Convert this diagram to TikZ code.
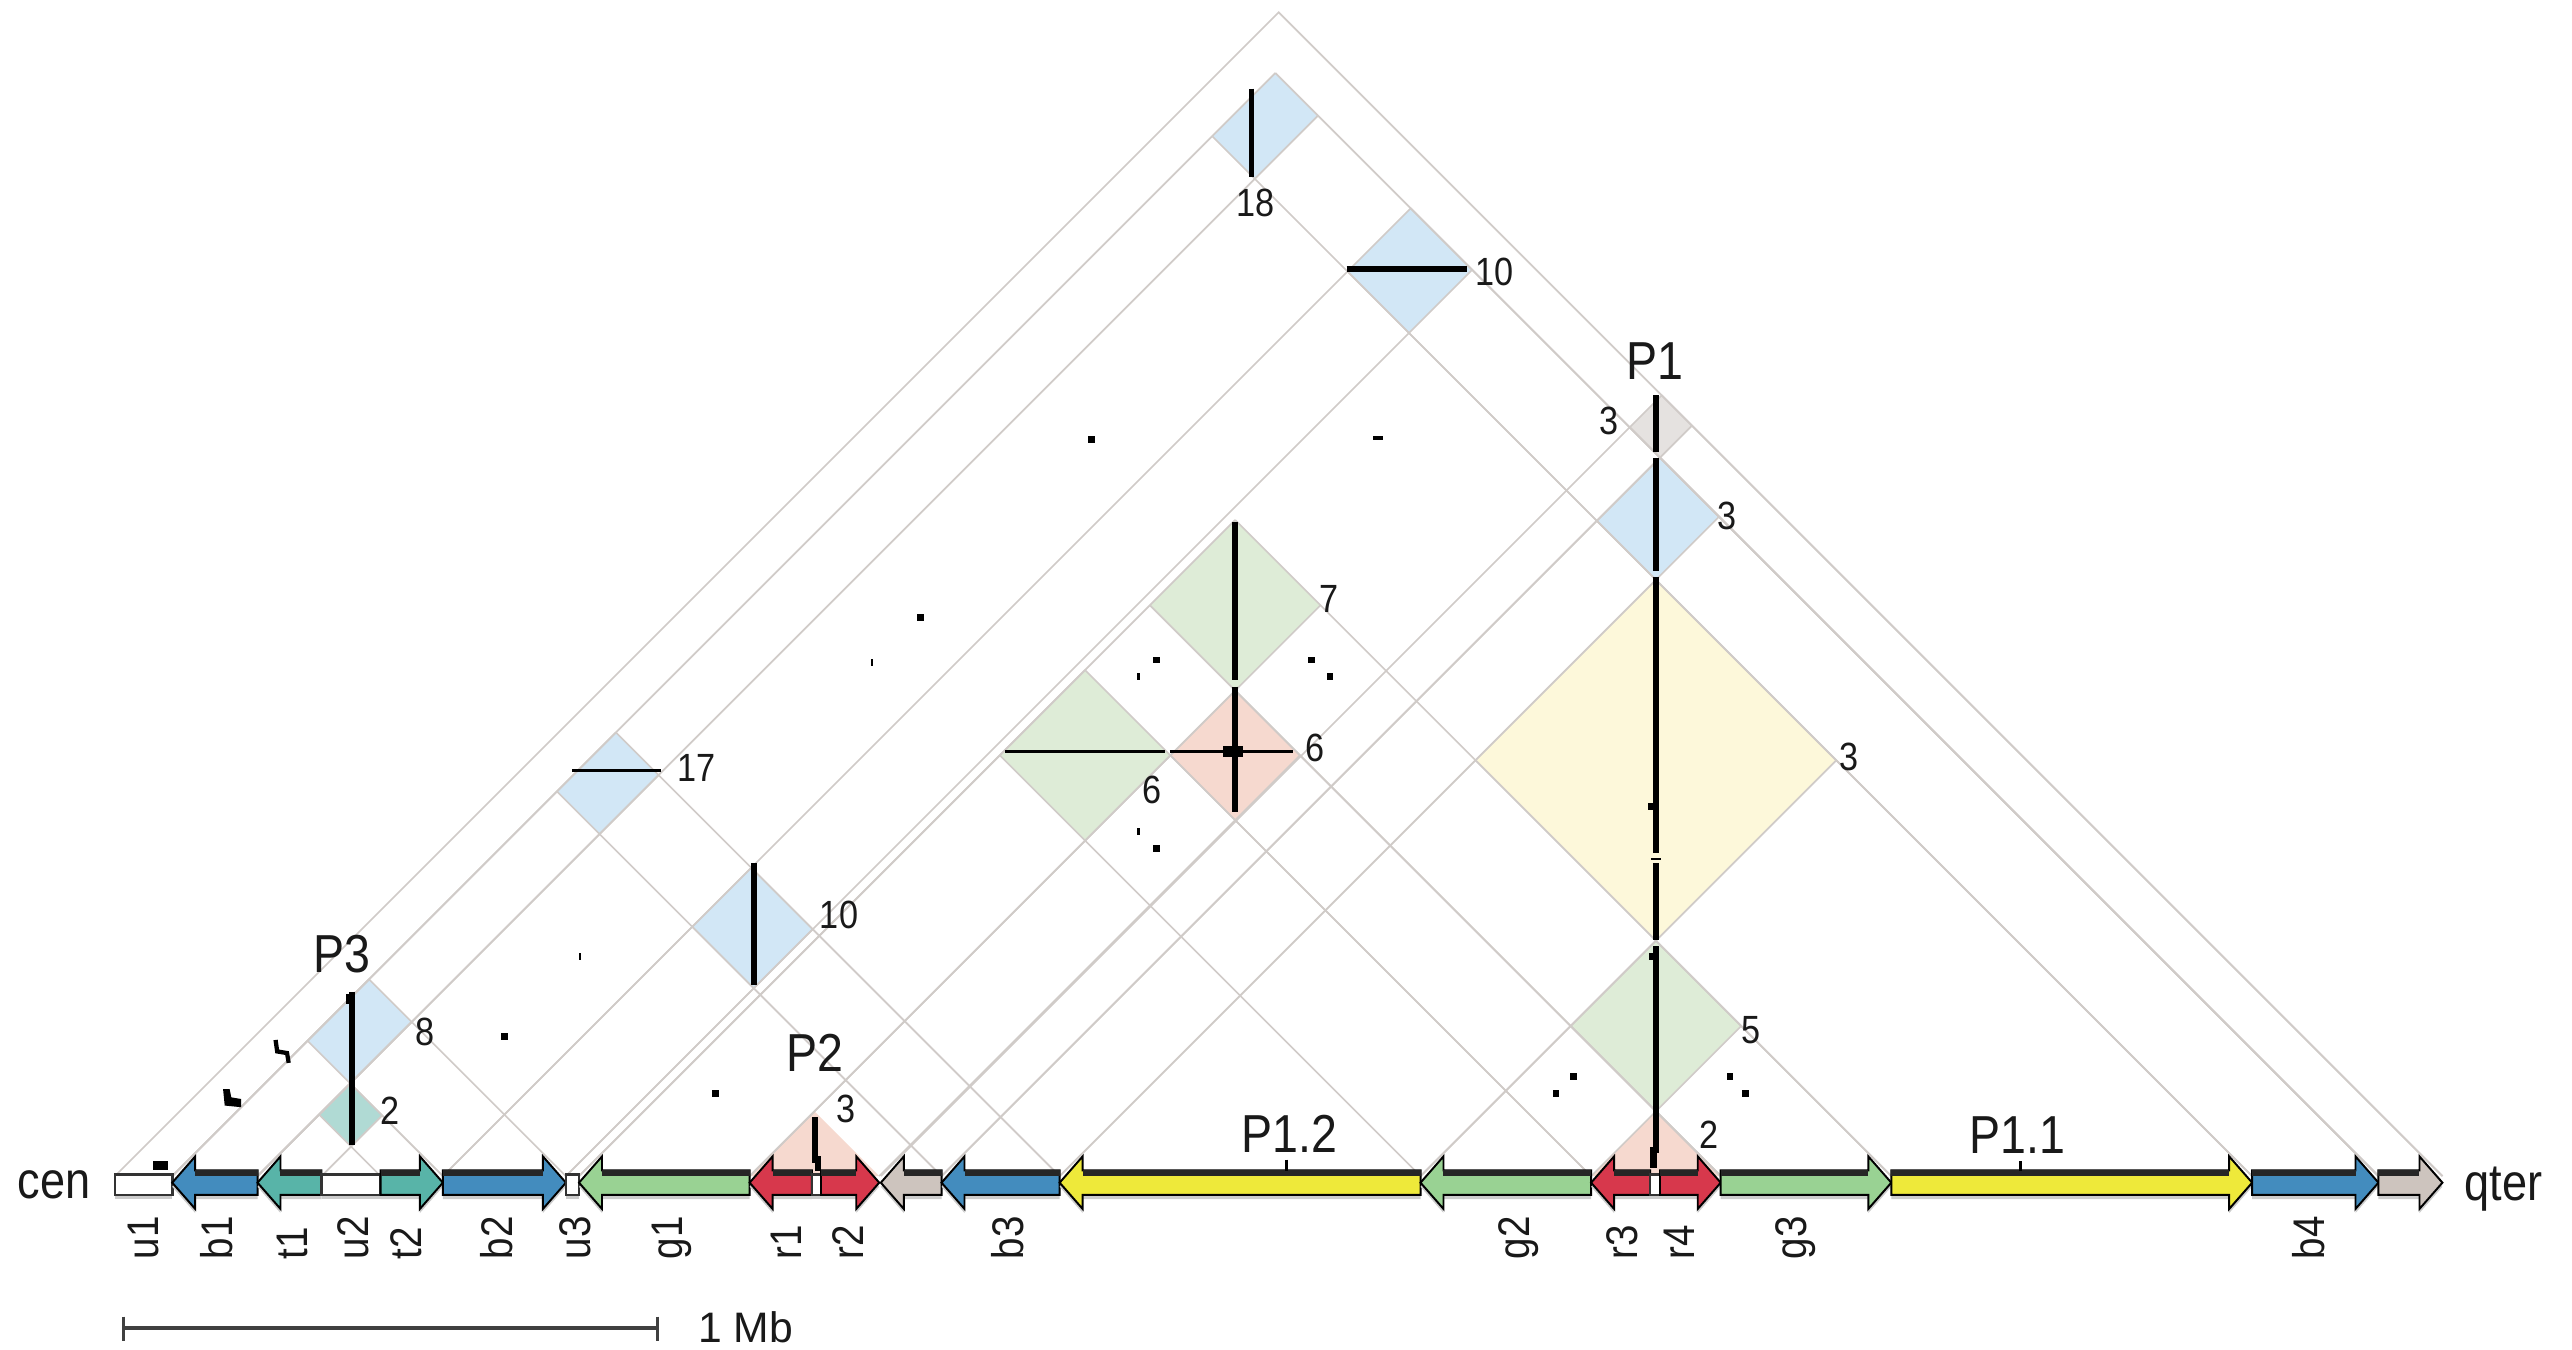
\documentclass[tikz,border=0pt]{standalone}
\usepackage{fontspec}
\setmainfont{Liberation Sans}[FakeStretch=0.87]
\newfontfamily\plainsf{Liberation Sans}
\definecolor{lblue}{RGB}{210,231,246}
\definecolor{lgreen}{RGB}{222,236,215}
\definecolor{lred}{RGB}{246,217,207}
\definecolor{lyellow}{RGB}{253,248,218}
\definecolor{lgray}{RGB}{229,226,224}
\definecolor{lteal}{RGB}{176,218,212}
\definecolor{cblue}{RGB}{67,140,190}
\definecolor{cteal}{RGB}{88,180,168}
\definecolor{cgreen}{RGB}{153,210,147}
\definecolor{cred}{RGB}{215,56,76}
\definecolor{cgray}{RGB}{205,196,190}
\definecolor{cyellow}{RGB}{238,233,58}
\definecolor{gridc}{RGB}{208,203,200}
\def\dpparse#1,#2\relax{\pgfpointxy{((#1)+(#2))/2}{717-((#2)-(#1))/2}}
\tikzdeclarecoordinatesystem{dp}{\dpparse#1\relax}
\newcommand\dmd[5]{\fill[#5] (dp cs:#1,#3) -- (dp cs:#2,#3) -- (dp cs:#2,#4) -- (dp cs:#1,#4) -- cycle;}
\newcommand\dgrid[4]{\draw[gridline] (dp cs:#1,#1) -- (dp cs:#1,#4) (dp cs:#2,#2) -- (dp cs:#2,#4) (dp cs:#3,#3) -- (dp cs:#1,#3) (dp cs:#4,#4) -- (dp cs:#1,#4);}
\newcommand\trif[3]{\fill[#3] (dp cs:#1,#1) -- (dp cs:#1,#2) -- (dp cs:#2,#2) -- cycle;}
\newcommand\larrS[3]{\path[#3] (#1,721) -- ({#1+14},705) -- ({#1+14},713.5) -- (#2,713.5) -- (#2,728.5) -- ({#1+14},728.5) -- ({#1+14},737) -- cycle;}
\newcommand\rarrS[3]{\path[#3] (#2,721) -- ({#2-14},705) -- ({#2-14},713.5) -- (#1,713.5) -- (#1,728.5) -- ({#2-14},728.5) -- ({#2-14},737) -- cycle;}
\newcommand\larr[3]{\larrS{#1}{#2}{fill=gray!40,shift={(0,2.5)}}\larrS{#1}{#2}{fill=#3,draw=black,line width=0.6pt}\fill[black!85] ({#1+14},713.5) rectangle (#2,717);}
\newcommand\rarr[3]{\rarrS{#1}{#2}{fill=gray!40,shift={(0,2.5)}}\rarrS{#1}{#2}{fill=#3,draw=black,line width=0.6pt}\fill[black!85] (#1,713.5) rectangle ({#2-14},717);}
\newcommand\ubox[2]{\fill[gray!40] (#1,718.5) rectangle (#2,731);\filldraw[fill=white,draw=black!80,line width=0.8pt] (#1,716) rectangle (#2,728.5);}
\tikzset{
  gridline/.style={draw=gridc,line width=0.5pt},
  aln/.style={draw=black,line width=1.75pt},
  alnp/.style={draw=black,line width=2pt},
  alnt/.style={draw=black,line width=0.9pt},
  num/.style={inner sep=0pt,text=black!90,font=\fontsize{12}{12}\selectfont},
  big/.style={inner sep=0pt,text=black!90,font=\fontsize{16.3}{16}\selectfont},
  seglab/.style={inner sep=0pt,rotate=90,anchor=west,text=black!90,font=\fontsize{13.5}{14}\selectfont},
  endlab/.style={inner sep=0pt,anchor=base west,text=black!90,font=\fontsize{15.8}{16}\selectfont},
}
\begin{document}
\begin{tikzpicture}[x=0.5pt,y=-0.5pt]
\useasboundingbox (0,0) rectangle (1568,823);
\fill[white] (0,0) rectangle (1568,823);
% diamond fills
\dmd{105}{157}{1373}{1450}{lblue}
\dmd{270}{345}{1373}{1450}{lblue}
\dmd{537}{574}{1450}{1489}{lgray}
\dmd{574}{646}{1373}{1450}{lblue}
\dmd{646}{866}{1153}{1373}{lyellow}
\dmd{353}{457}{1049}{1153}{lgreen}
\dmd{353}{457}{866}{970}{lgreen}
\dmd{457}{536}{970}{1049}{lred}
\dmd{105}{157}{574}{646}{lblue}
\dmd{270}{345}{574}{646}{lblue}
\dmd{866}{970}{1049}{1153}{lgreen}
\dmd{105}{157}{270}{345}{lblue}
\dmd{157}{196}{232}{270}{lteal}
\trif{457}{536}{lred}
\trif{970}{1049}{lred}
% grid lines
\draw[gridline] (dp cs:70,70) -- (dp cs:70,1489) -- (dp cs:1489,1489);
\dgrid{105}{157}{1373}{1450}
\dgrid{270}{345}{1373}{1450}
\dgrid{537}{574}{1450}{1489}
\dgrid{574}{646}{1373}{1450}
\dgrid{646}{866}{1153}{1373}
\dgrid{353}{457}{1049}{1153}
\dgrid{353}{457}{866}{970}
\dgrid{457}{536}{970}{1049}
\dgrid{105}{157}{574}{646}
\dgrid{270}{345}{574}{646}
\dgrid{866}{970}{1049}{1153}
\dgrid{105}{157}{270}{345}
\dgrid{157}{196}{232}{270}
% alignments
\draw[aln] (763,54) -- (763,108);
\draw[aln] (821,164.2) -- (894.6,164.2);
\draw[alnp] (1009.5,241) -- (1009.5,275.5) (1009.5,279) -- (1009.5,348) (1009.5,352) -- (1009.5,520.3) (1009.5,526.3) -- (1009.5,573) (1009.5,577) -- (1009.5,703);
\draw[alnp] (1008,699) -- (1008,712);
\draw[line width=0.5pt] (1006.5,523.8) -- (1012.5,523.8);
\fill (1004.5,489.5) rectangle (1008,494);
\fill (1005,581) rectangle (1008,585.5);
\draw[aln] (459.7,526) -- (459.7,600.5);
\draw[aln] (753,318) -- (753,414.5);
\draw[aln] (753,418.6) -- (753,495);
\draw[alnt] (612.7,458.3) -- (710,458.3) (713,458.3) -- (788.5,458.3);
\fill (745.7,455) rectangle (757.9,461.3);
\draw[alnt] (349,470) -- (403,470);
\draw[aln] (214.6,604.6) -- (214.6,698);
\fill (211,606) rectangle (214,612);
\draw[aln] (497,681) -- (497,709);
\draw[aln] (498.5,705) -- (498.5,714);
\draw[line width=1.3pt] (168,634) -- (169,641) -- (175,642) -- (176,648);
\fill (136,664) -- (140,664) -- (141,669) -- (147,670) -- (147,675) -- (137,674) -- cycle;
% dots
\fill (663.5,266) rectangle (667.5,270);
\fill (837,266) rectangle (843,268.5);
\fill (559,374.5) rectangle (563,378.5);
\fill (530.8,402) rectangle (532.3,406);
\fill (703.2,400.4) rectangle (707.2,404.4);
\fill (693.3,410.5) rectangle (694.8,414.5);
\fill (797.7,400.4) rectangle (801.7,404.4);
\fill (808.8,410.5) rectangle (812.8,414.5);
\fill (693.3,505) rectangle (694.8,509);
\fill (703.2,515.2) rectangle (707.2,519.2);
\fill (352.9,581.2) rectangle (354.4,585.2);
\fill (305.7,630) rectangle (309.7,634);
\fill (434.3,664.5) rectangle (438.3,668.5);
\fill (957.4,654.4) rectangle (961.4,658.4);
\fill (946.5,664.5) rectangle (950.5,668.5);
\fill (1052.6,654.4) rectangle (1056.6,658.4);
\fill (1062.1,664.5) rectangle (1066.1,668.5);
% labels in the triangle
\node[num] (n18) at (765.5,123.5) {18};
\node[num] (n10a) at (911,165.8) {10};
\node[big] (p1) at (1009,220) {P1};
\node[num] (n3g) at (981,256.5) {3};
\node[num] (n3b) at (1053,314.5) {3};
\node[num] (n7) at (810.3,365.3) {7};
\node[num] (n6r) at (801.7,456) {6};
\node[num] (n6g) at (702.6,481.6) {6};
\node[num] (n3y) at (1127,461.5) {3};
\node[num] (n17) at (424.5,468) {17};
\node[num] (n10b) at (511.5,558) {10};
\node[num] (n5) at (1067.5,628) {5};
\node[num] (n2r) at (1041.7,692) {2};
\node[big] (p2) at (497,642) {P2};
\node[num] (n3p) at (515.5,676) {3};
\node[big] (p3) at (208.5,581.5) {P3};
\node[num] (n8) at (259,629) {8};
\node[num] (n2t) at (237.5,677) {2};
\node[big] (p12) at (786,691.4) {P1.2};
\node[big] (p11) at (1230,692) {P1.1};
% bar
\ubox{70}{105}
\larr{105}{157}{cblue}
\larr{157}{196}{cteal}
\ubox{196}{232}
\rarr{232}{270}{cteal}
\rarr{270}{345}{cblue}
\ubox{345}{353}
\larr{353}{457}{cgreen}
\larr{457}{495}{cred}
\ubox{495}{500.5}
\rarr{500.5}{536}{cred}
\larr{537}{574}{cgray}
\larr{574}{646}{cblue}
\larr{646}{866}{cyellow}
\larr{866}{970}{cgreen}
\larr{970}{1006}{cred}
\ubox{1006}{1012}
\rarr{1012}{1049}{cred}
\rarr{1049}{1153}{cgreen}
\rarr{1153}{1373}{cyellow}
\rarr{1373}{1450}{cblue}
\rarr{1450}{1489}{cgray}
\fill (93.4,708) rectangle (102.4,713);
\draw[line width=1pt] (784.5,707) -- (784.5,714);
\draw[line width=1pt] (1231.7,708) -- (1231.7,714);
% end labels
\node[endlab] (cen) at (10.5,730.6) {cen};
\node[endlab] (qter) at (1502.3,731.6) {qter};
% segment labels
\node[seglab] (lu1) at (87.5,768) {u1};
\node[seglab] (lb1) at (132.3,768) {b1};
\node[seglab] (lt1) at (178.5,768) {t1};
\node[seglab] (lu2) at (215.3,768) {u2};
\node[seglab] (lt2) at (247.5,768) {t2};
\node[seglab] (lb2) at (302.8,768) {b2};
\node[seglab] (lu3) at (350.7,768) {u3};
\node[seglab] (lg1) at (409.5,768) {g1};
\node[seglab] (lr1) at (479.5,768) {r1};
\node[seglab] (lr2) at (517,768) {r2};
\node[seglab] (lb3) at (614.5,768) {b3};
\node[seglab] (lg2) at (926,768) {g2};
\node[seglab] (lr3) at (989,768) {r3};
\node[seglab] (lr4) at (1023.5,768) {r4};
\node[seglab] (lg3) at (1094.4,768) {g3};
\node[seglab] (lb4) at (1407.3,768) {b4};
% scale bar
\coordinate (sbl) at (75.3,809.8);
\coordinate (sbr) at (400.8,809.8);
\draw[black!75,line width=1.2pt] (sbl) -- (sbr);
\draw[black!75,line width=0.8pt] ([yshift=3.6pt]sbl) -- ([yshift=-4pt]sbl) ([yshift=3.6pt]sbr) -- ([yshift=-4pt]sbr);
\node[inner sep=0pt,anchor=west,text=black!90,font=\plainsf\fontsize{13}{13}\selectfont] (mb) at (425.2,809) {1 Mb};
\end{tikzpicture}
\end{document}
